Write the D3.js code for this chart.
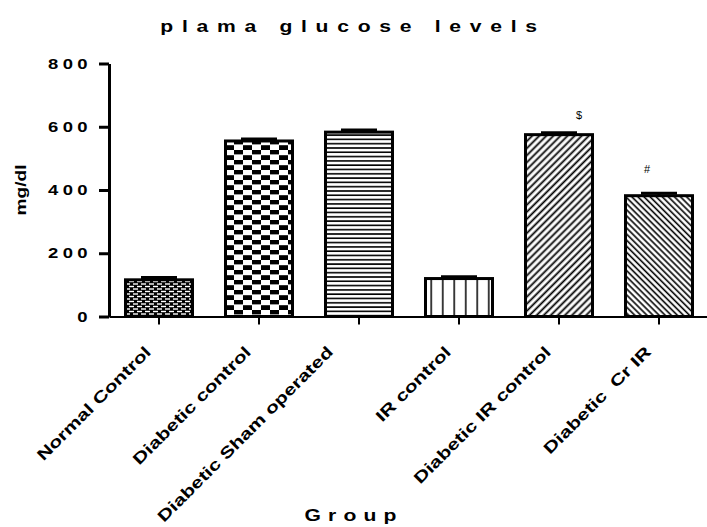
<!DOCTYPE html>
<html><head><meta charset="utf-8">
<script src="https://cdn.jsdelivr.net/npm/d3@7"></script>
<style>
html,body{margin:0;padding:0;background:#fff;}
svg{display:block;}
text{font-family:"Liberation Sans",Arial,Helvetica,sans-serif;fill:#000;}
</style></head>
<body><svg id="chart" width="707" height="527"></svg>
<script>
const categories = ["Normal Control","Diabetic control","Diabetic Sham operated","IR control","Diabetic IR control","Diabetic  Cr IR"];
const means = [116, 555, 583, 120, 575, 382];
const sems = [7, 6, 7, 6, 6, 8];
const yTicks = [0, 200, 400, 600, 800];
const marks = ["", "", "", "", "$", "#"];
const titleText = "plama glucose levels";
const xTitle = "Group";
const yTitle = "mg/dl";

const svg = d3.select("#chart");
const SX = 1.32;
const x = d3.scaleBand().domain(categories).range([109, 709]).paddingInner(0.3).paddingOuter(0.15);
const y = d3.scaleLinear().domain([0, 800]).range([316.5, 63.5]);

// patterns
const defs = svg.append("defs");
function pat(id, w, h, build){
  const p = defs.append("pattern").attr("id", id).attr("patternUnits","userSpaceOnUse").attr("width", w).attr("height", h);
  build(p);
}
pat("p0", 8, 5, p => {
  p.append("rect").attr("width",8).attr("height",5).attr("fill","#000");
  p.append("rect").attr("x",1).attr("y",0.8).attr("width",5).attr("height",1.4).attr("fill","#fff");
  p.append("rect").attr("x",5).attr("y",3.3).attr("width",5).attr("height",1.4).attr("fill","#fff");
  p.append("rect").attr("x",-3).attr("y",3.3).attr("width",5).attr("height",1.4).attr("fill","#fff");
});
pat("p1", 18, 10, p => {
  p.append("rect").attr("width",18).attr("height",10).attr("fill","#fff");
  p.append("rect").attr("x",0).attr("y",0).attr("width",9).attr("height",5).attr("fill","#000");
  p.append("rect").attr("x",9).attr("y",5).attr("width",9).attr("height",5).attr("fill","#000");
  p.append("rect").attr("x",0).attr("y",4.4).attr("width",18).attr("height",0.8).attr("fill","#fff");
});
pat("p2", 10, 4.3, p => {
  p.append("rect").attr("width",10).attr("height",4.3).attr("fill","#fff");
  p.append("rect").attr("y",1).attr("width",10).attr("height",1.6).attr("fill","#000");
});
pat("p3", 11.5, 10, p => {
  p.append("rect").attr("width",11.5).attr("height",10).attr("fill","#fff");
  p.append("rect").attr("x",5).attr("width",1.5).attr("height",10).attr("fill","#000");
});
pat("p4", 5, 5, p => {
  p.attr("patternTransform","rotate(-45)");
  p.append("rect").attr("width",5).attr("height",5).attr("fill","#fff");
  p.append("rect").attr("y",1.5).attr("width",5).attr("height",1.8).attr("fill","#000");
});
pat("p5", 4.3, 4.3, p => {
  p.attr("patternTransform","rotate(45)");
  p.append("rect").attr("width",4.3).attr("height",4.3).attr("fill","#fff");
  p.append("rect").attr("y",1.2).attr("width",4.3).attr("height",1.6).attr("fill","#000");
});
const patIds = ["p0","p1","p2","p3","p4","p5"];

// axes
const yAxis = svg.append("g").attr("transform","translate(109,0)")
  .call(d3.axisLeft(y).tickValues(yTicks).tickSize(10).tickSizeOuter(0).tickFormat(""));
yAxis.select(".domain").attr("stroke","#000").attr("stroke-width",3);
yAxis.selectAll(".tick line").attr("stroke","#000").attr("stroke-width",3);

const xAxis = svg.append("g").attr("transform","translate(0,316.5)")
  .call(d3.axisBottom(x).tickSize(8).tickSizeOuter(0).tickFormat(""));
xAxis.select(".domain").attr("stroke","#000").attr("stroke-width",2);
xAxis.selectAll(".tick line").attr("stroke","#000").attr("stroke-width",2);

// y tick labels
svg.append("g").selectAll("text").data(yTicks).join("text")
  .attr("transform", d => `translate(${92},${y(d)+5}) scale(${SX},1)`)
  .attr("text-anchor","end").attr("font-size",14).attr("font-weight","bold")
  .attr("letter-spacing",3.3).text(d => d);

// bars
const bars = svg.append("g");
bars.selectAll("rect").data(categories).join("rect")
  .attr("x", d => x(d)+1.5).attr("width", x.bandwidth()-3)
  .attr("y", (d,i) => y(means[i])).attr("height", (d,i) => y(0)-y(means[i]))
  .attr("fill", (d,i) => `url(#${patIds[i]})`).attr("stroke","#000").attr("stroke-width",3);

// error bars
const eb = svg.append("g").attr("stroke","#000").attr("stroke-width",3);
categories.forEach((c,i) => {
  const cx = x(c) + x.bandwidth()/2;
  eb.append("line").attr("x1",cx).attr("x2",cx).attr("y1",y(means[i])).attr("y2",y(means[i]+sems[i]));
  eb.append("line").attr("x1",cx-18).attr("x2",cx+18).attr("y1",y(means[i]+sems[i])).attr("y2",y(means[i]+sems[i]));
});

// annotation marks
const markDx = [0, 0, 0, 0, 20, -12];
const markDy = [0, 0, 0, 0, -14, -20];
svg.append("g").selectAll("text").data(categories).join("text")
  .attr("x", (d,i) => x(d) + x.bandwidth()/2 + markDx[i])
  .attr("y", (d,i) => y(means[i]+sems[i]) + markDy[i])
  .attr("text-anchor","middle").attr("font-size",11).attr("fill","#000").text((d,i) => marks[i]);

// x labels
const labelDx = [0, 0, -18, 0, 0, 0];
svg.append("g").selectAll("text").data(categories).join("text")
  .attr("transform", (d,i) => `translate(${x(d)+x.bandwidth()/2-7+labelDx[i]},${353}) rotate(-45) scale(${SX},1)`)
  .attr("text-anchor","end").attr("font-size",16).attr("font-weight","bold")
  .style("white-space","pre").text(d => d);

// titles
svg.append("text").attr("transform",`translate(353,32) scale(${SX},1)`)
  .attr("text-anchor","middle").attr("font-size",16).attr("font-weight","bold")
  .attr("letter-spacing",6.6).text(titleText);
svg.append("text").attr("transform",`translate(354,521) scale(${SX},1)`)
  .attr("text-anchor","middle").attr("font-size",16).attr("font-weight","bold")
  .attr("letter-spacing",5.4).text(xTitle);
svg.append("text").attr("transform",`translate(26,190) rotate(-90) scale(${SX},1)`)
  .attr("text-anchor","middle").attr("font-size",14.5).attr("font-weight","bold")
  .text(yTitle);
</script></body></html>
